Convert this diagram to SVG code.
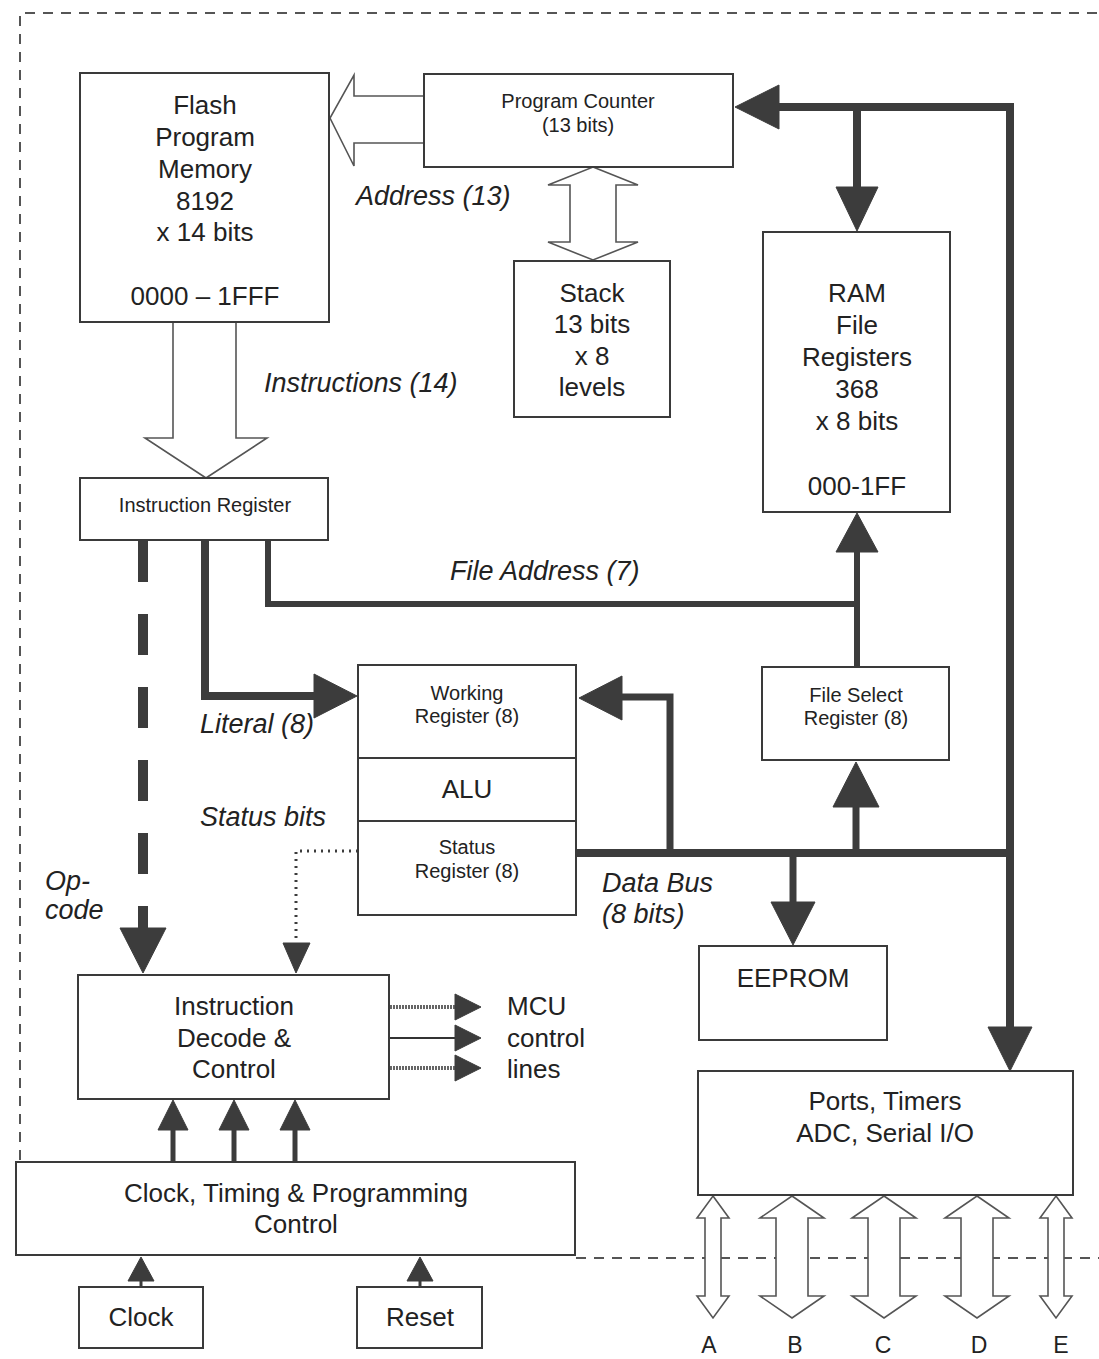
<svg xmlns="http://www.w3.org/2000/svg" width="1099" height="1359" viewBox="0 0 1099 1359">
<style>
  .box { fill: #fff; stroke: #3a3a3a; stroke-width: 2; }
  .t { font-family: "Liberation Sans", Arial, sans-serif; fill: #222; text-anchor: middle; }
  .big { font-size: 26px; }
  .sm { font-size: 20px; }
  .lbl { font-family: "Liberation Sans", Arial, sans-serif; fill: #222; font-size: 27px; font-style: italic; }
  .bus { fill: none; stroke: #3c3c3c; stroke-linejoin: miter; }
  .head { fill: #3c3c3c; stroke: #3c3c3c; stroke-width: 1; stroke-linejoin: round; }
  .hollow { fill: #fff; stroke: #555; stroke-width: 1.6; stroke-linejoin: miter; }
  .border { fill: none; stroke: #555; stroke-width: 2; stroke-dasharray: 10 8; }
</style>
<rect width="1099" height="1359" fill="#fff"/>

<!-- chip boundary -->
<path class="border" d="M 20,1160 V 13 H 1099"/>
<path class="border" d="M 576,1258 H 1099"/>

<g id="connectors">
  <!-- Address (13) hollow arrow -->
  <polygon class="hollow" points="425,96 354,96 354,75 330,118 354,166 354,143 425,143"/>
  <!-- Stack double arrow -->
  <polygon class="hollow" points="593,167 638,185 616,185 616,242 638,242 593,260 548,242 570,242 570,185 548,185"/>
  <!-- Instructions hollow arrow -->
  <polygon class="hollow" points="173,322 173,438 145,438 206,478 267,438 236,438 236,322"/>

  <!-- main bus: right side to PC, RAM and Ports -->
  <path class="bus" stroke-width="8" d="M 776,107 H 1010 V 1030"/>
  <polygon class="head" points="735,107 779,85 779,129"/>
  <path class="bus" stroke-width="8" d="M 857,107 V 190"/>
  <polygon class="head" points="836,187 878,187 857,231"/>
  <polygon class="head" points="988,1027 1032,1027 1010,1071"/>

  <!-- File address -->
  <path class="bus" stroke-width="6" d="M 268,540 V 604 H 857"/>
  <path class="bus" stroke-width="6" d="M 857,667 V 548"/>
  <polygon class="head" points="836,552 878,552 857,513"/>

  <!-- Literal -->
  <path class="bus" stroke-width="8" d="M 205,540 V 696 H 318"/>
  <polygon class="head" points="314,674 314,718 357,696"/>

  <!-- Data bus -->
  <path class="bus" stroke-width="8" d="M 577,853 H 1010"/>
  <path class="bus" stroke-width="7" d="M 670,853 V 697 H 618"/>
  <polygon class="head" points="622,676 622,720 579,698"/>
  <path class="bus" stroke-width="7" d="M 856,853 V 803"/>
  <polygon class="head" points="833,807 879,807 856,762"/>
  <path class="bus" stroke-width="7" d="M 793,853 V 905"/>
  <polygon class="head" points="771,902 815,902 793,945"/>

  <!-- Op-code dashed -->
  <path class="bus" stroke-width="10" stroke-dasharray="41 32" d="M 143,541 V 930"/>
  <polygon class="head" points="120,928 166,928 143,973"/>

  <!-- Status bits dotted -->
  <path fill="none" stroke="#3c3c3c" stroke-width="3" stroke-dasharray="2 5" d="M 358,851 H 296 V 944"/>
  <polygon class="head" points="283,943 310,943 296,973"/>

  <!-- MCU control lines -->
  <line x1="390" y1="1007" x2="458" y2="1007" stroke="#666" stroke-width="4" stroke-dasharray="2 1"/>
  <polygon class="head" points="455,994 455,1020 481,1007"/>
  <line x1="390" y1="1038" x2="458" y2="1038" stroke="#333" stroke-width="2"/>
  <polygon class="head" points="455,1025 455,1051 481,1038"/>
  <line x1="390" y1="1068" x2="458" y2="1068" stroke="#666" stroke-width="4" stroke-dasharray="2 1"/>
  <polygon class="head" points="455,1055 455,1081 481,1068"/>

  <!-- Clock timing to decode -->
  <line x1="173" y1="1162" x2="173" y2="1128" stroke="#3c3c3c" stroke-width="5"/>
  <polygon class="head" points="158,1130 188,1130 173,1100"/>
  <line x1="234" y1="1162" x2="234" y2="1128" stroke="#3c3c3c" stroke-width="5"/>
  <polygon class="head" points="219,1130 249,1130 234,1100"/>
  <line x1="295" y1="1162" x2="295" y2="1128" stroke="#3c3c3c" stroke-width="5"/>
  <polygon class="head" points="280,1130 310,1130 295,1100"/>

  <!-- Clock / Reset inputs -->
  <line x1="141" y1="1287" x2="141" y2="1278" stroke="#3c3c3c" stroke-width="3"/>
  <polygon class="head" points="128,1281 154,1281 141,1257"/>
  <line x1="420" y1="1287" x2="420" y2="1278" stroke="#3c3c3c" stroke-width="3"/>
  <polygon class="head" points="407,1281 433,1281 420,1257"/>

  <!-- Port arrows -->
  <polygon class="hollow" points="713,1196 729,1218 721,1218 721,1296 729,1296 713,1318 697,1296 705,1296 705,1218 697,1218"/>
  <polygon class="hollow" points="792,1196 824,1218 808,1218 808,1296 824,1296 792,1318 760,1296 776,1296 776,1218 760,1218"/>
  <polygon class="hollow" points="884,1196 916,1218 900,1218 900,1296 916,1296 884,1318 852,1296 868,1296 868,1218 852,1218"/>
  <polygon class="hollow" points="977,1196 1009,1218 993,1218 993,1296 1009,1296 977,1318 945,1296 961,1296 961,1218 945,1218"/>
  <polygon class="hollow" points="1056,1196 1072,1218 1064,1218 1064,1296 1072,1296 1056,1318 1040,1296 1048,1296 1048,1218 1040,1218"/>
</g>

<g id="flash">
  <rect class="box" x="80" y="73" width="249" height="249"/>
  <text class="t big" x="205" y="114">Flash</text>
  <text class="t big" x="205" y="146">Program</text>
  <text class="t big" x="205" y="178">Memory</text>
  <text class="t big" x="205" y="210">8192</text>
  <text class="t big" x="205" y="241">x 14 bits</text>
  <text class="t big" x="205" y="305">0000 – 1FFF</text>
</g>

<g id="pc">
  <rect class="box" x="424" y="74" width="309" height="93"/>
  <text class="t sm" x="578" y="108">Program Counter</text>
  <text class="t sm" x="578" y="132">(13 bits)</text>
</g>

<g id="stack">
  <rect class="box" x="514" y="261" width="156" height="156"/>
  <text class="t big" x="592" y="302">Stack</text>
  <text class="t big" x="592" y="333">13 bits</text>
  <text class="t big" x="592" y="365">x 8</text>
  <text class="t big" x="592" y="396">levels</text>
</g>

<g id="ram">
  <rect class="box" x="763" y="232" width="187" height="280"/>
  <text class="t big" x="857" y="302">RAM</text>
  <text class="t big" x="857" y="334">File</text>
  <text class="t big" x="857" y="366">Registers</text>
  <text class="t big" x="857" y="398">368</text>
  <text class="t big" x="857" y="430">x 8 bits</text>
  <text class="t big" x="857" y="495">000-1FF</text>
</g>

<g id="ir">
  <rect class="box" x="80" y="478" width="248" height="62"/>
  <text class="t sm" x="205" y="512">Instruction Register</text>
</g>

<g id="alu">
  <rect class="box" x="358" y="665" width="218" height="250"/>
  <line x1="358" y1="758" x2="576" y2="758" stroke="#3a3a3a" stroke-width="2"/>
  <line x1="358" y1="821" x2="576" y2="821" stroke="#3a3a3a" stroke-width="2"/>
  <text class="t sm" x="467" y="700">Working</text>
  <text class="t sm" x="467" y="723">Register (8)</text>
  <text class="t big" x="467" y="798">ALU</text>
  <text class="t sm" x="467" y="854">Status</text>
  <text class="t sm" x="467" y="878">Register (8)</text>
</g>

<g id="fsr">
  <rect class="box" x="762" y="667" width="187" height="93"/>
  <text class="t sm" x="856" y="702">File Select</text>
  <text class="t sm" x="856" y="725">Register (8)</text>
</g>

<g id="eeprom">
  <rect class="box" x="699" y="946" width="188" height="94"/>
  <text class="t big" x="793" y="987">EEPROM</text>
</g>

<g id="decode">
  <rect class="box" x="78" y="975" width="311" height="124"/>
  <text class="t big" x="234" y="1015">Instruction</text>
  <text class="t big" x="234" y="1047">Decode &amp;</text>
  <text class="t big" x="234" y="1078">Control</text>
</g>

<g id="ports">
  <rect class="box" x="698" y="1071" width="375" height="124"/>
  <text class="t big" x="885" y="1110">Ports, Timers</text>
  <text class="t big" x="885" y="1142">ADC, Serial I/O</text>
</g>

<g id="timing">
  <rect class="box" x="16" y="1162" width="559" height="93"/>
  <text class="t big" x="296" y="1202">Clock, Timing &amp; Programming</text>
  <text class="t big" x="296" y="1233">Control</text>
</g>

<g id="clock">
  <rect class="box" x="79" y="1287" width="124" height="61"/>
  <text class="t big" x="141" y="1326">Clock</text>
</g>

<g id="reset">
  <rect class="box" x="357" y="1287" width="125" height="61"/>
  <text class="t big" x="420" y="1326">Reset</text>
</g>

<g id="labels">
  <text class="lbl" x="356" y="205">Address (13)</text>
  <text class="lbl" x="264" y="392">Instructions (14)</text>
  <text class="lbl" x="450" y="580">File Address (7)</text>
  <text class="lbl" x="200" y="733">Literal (8)</text>
  <text class="lbl" x="200" y="826">Status bits</text>
  <text class="lbl" x="45" y="890">Op-</text>
  <text class="lbl" x="45" y="919">code</text>
  <text class="lbl" x="602" y="892">Data Bus</text>
  <text class="lbl" x="602" y="923">(8 bits)</text>
  <text class="t big" x="507" y="1015" style="text-anchor:start">MCU</text>
  <text class="t big" x="507" y="1047" style="text-anchor:start">control</text>
  <text class="t big" x="507" y="1078" style="text-anchor:start">lines</text>
  <text class="t" font-size="23" x="709" y="1353">A</text>
  <text class="t" font-size="23" x="795" y="1353">B</text>
  <text class="t" font-size="23" x="883" y="1353">C</text>
  <text class="t" font-size="23" x="979" y="1353">D</text>
  <text class="t" font-size="23" x="1061" y="1353">E</text>
</g>
</svg>
